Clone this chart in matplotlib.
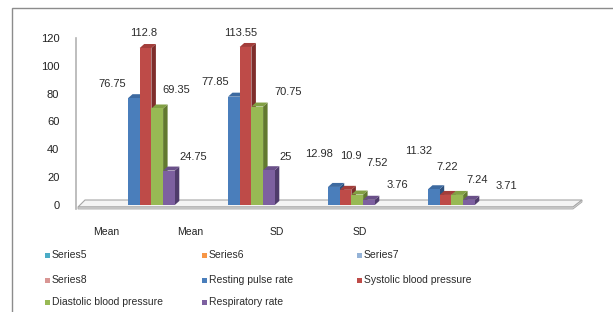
import numpy as np
import matplotlib
matplotlib.use("Agg")
import matplotlib.pyplot as plt
from matplotlib.patches import Polygon, Rectangle

# data
categories = ["Mean", "Mean", "SD", "SD"]
series_names = ["Resting pulse rate", "Systolic blood pressure",
                "Diastolic blood pressure", "Respiratory rate"]
resting = [76.75, 77.85, 12.98, 11.32]
systolic = [112.8, 113.55, 10.9, 7.22]
diastolic = [69.35, 70.75, 7.52, 7.24]
respiratory = [24.75, 25, 3.76, 3.71]
empty_series = ["Series5", "Series6", "Series7", "Series8"]
yticks = [0, 20, 40, 60, 80, 100, 120]

# styling
front = ["#4a7ebb", "#be4b48", "#98b954", "#7d60a0"]
side = ["#2d507c", "#7e2d2b", "#62792f", "#4f3b6b"]
top = ["#3d6aa0", "#a33d3a", "#82a044", "#6a5089"]
empty_colors = ["#4bacc6", "#f79646", "#95b3d7", "#d99694"]

# label offsets (pixels) from each bar's front top, per category / series
label_off = [
    [(-22, 14), (-2, 15), (19.5, 18.5), (24, 13.5)],
    [(-19, 14.5), (-4.5, 14), (31, 14.5), (17, 13)],
    [(-15, 33), (5.5, 34), (20, 31.5), (28, 15)],
    [(-15, 38), (1.5, 28), (20, 15), (37, 14)],
]

W, H = 613, 312
FONT = "Liberation Sans"
plt.rcParams["font.family"] = FONT

fig = plt.figure(figsize=(W / 100, H / 100), dpi=100)
fig.patch.set_facecolor("white")

# outer chart border (right and bottom edges fall outside the picture)
fig.patches.append(Rectangle((12 / W, -0.1), 605 / W, 1.1 - 8 / H,
                             transform=fig.transFigure, fill=False,
                             edgecolor="#8c8c8c", linewidth=1.0))

ax = fig.add_axes([76 / W, 1 - 209 / H, (582 - 76) / W, (209 - 38) / H])
yscale = 167 / 120.0   # px per unit
ax.set_xlim(-0.754, 4.306)
ax.set_ylim(-4 / yscale, 120)

for s in ["top", "right", "bottom"]:
    ax.spines[s].set_visible(False)
ax.spines["left"].set_color("#b3b3b3")
ax.spines["left"].set_linewidth(1.2)

# floor slab
fy_front = -2 / yscale
fy_back = 5 / yscale
fy_bot = -4 / yscale
ax.add_patch(Polygon([(-0.734, fy_front), (-0.664, fy_back), (4.306, fy_back),
                      (4.216, fy_front)], closed=True, facecolor="#f4f4f4",
                     edgecolor="#a6a6a6", linewidth=0.8, clip_on=False, zorder=1))
ax.add_patch(Polygon([(-0.734, fy_front), (4.216, fy_front), (4.306, fy_back),
                      (4.306, fy_back + fy_bot - fy_front), (4.216, fy_bot),
                      (-0.734, fy_bot)], closed=True, facecolor="#d8d8d8",
                     edgecolor="#a6a6a6", linewidth=0.6, clip_on=False, zorder=1))

x = np.arange(len(categories))
w = 0.117
ddx = 0.045
ddy = 4 / yscale
values = [resting, systolic, diastolic, respiratory]

for i, vals in enumerate(values):
    xs = x + (i - 1.5) * w
    z = 3 + i
    for xc, v in zip(xs, vals):
        x0, x1 = xc - w / 2, xc + w / 2
        ax.add_patch(Polygon([(x1, 0), (x1 + ddx, ddy), (x1 + ddx, v + ddy), (x1, v)],
                             closed=True, facecolor=side[i], edgecolor="none", zorder=z))
        ax.add_patch(Polygon([(x0, v), (x0 + ddx, v + ddy), (x1 + ddx, v + ddy), (x1, v)],
                             closed=True, facecolor=top[i], edgecolor="none", zorder=z))
    ax.bar(xs, vals, width=w, color=front[i], edgecolor="none", zorder=z + 0.5)
    for j, (xc, v) in enumerate(zip(xs, vals)):
        dx, dy = label_off[j][i]
        ax.annotate(f"{v:g}", xy=(xc, v), xytext=(dx, dy), textcoords="offset pixels",
                    ha="center", va="center", fontsize=8, color="#2b2b2b", zorder=10)

ax.set_yticks(yticks)
ax.set_yticklabels([str(t) for t in yticks], fontsize=8, color="#222222")
ax.tick_params(axis="y", length=0, pad=12)

# category labels (shifted by the 3D projection)
cat_x = [-0.454, 0.386, 1.256, 2.086]
ax.set_xticks(cat_x)
ax.set_xticklabels(categories, fontsize=7.5, color="#222222")
ax.tick_params(axis="x", length=0, pad=13)

# legend, row-major in three columns
legend_names = empty_series + series_names
legend_colors = empty_colors + front
col_x = [45, 202, 357]
row_y = [255, 280, 302]
for k, (name, col) in enumerate(zip(legend_names, legend_colors)):
    r, c = divmod(k, 3)
    mx, my = col_x[c], row_y[r]
    fig.patches.append(Rectangle((mx / W, 1 - (my + 2.5) / H), 5 / W, 5 / H,
                                 transform=fig.transFigure, facecolor=col,
                                 edgecolor="none"))
    fig.text((mx + 7) / W, 1 - my / H, name, fontsize=7.5, color="#2b2b2b",
             ha="left", va="center")

fig.savefig("out.png", dpi=100)
